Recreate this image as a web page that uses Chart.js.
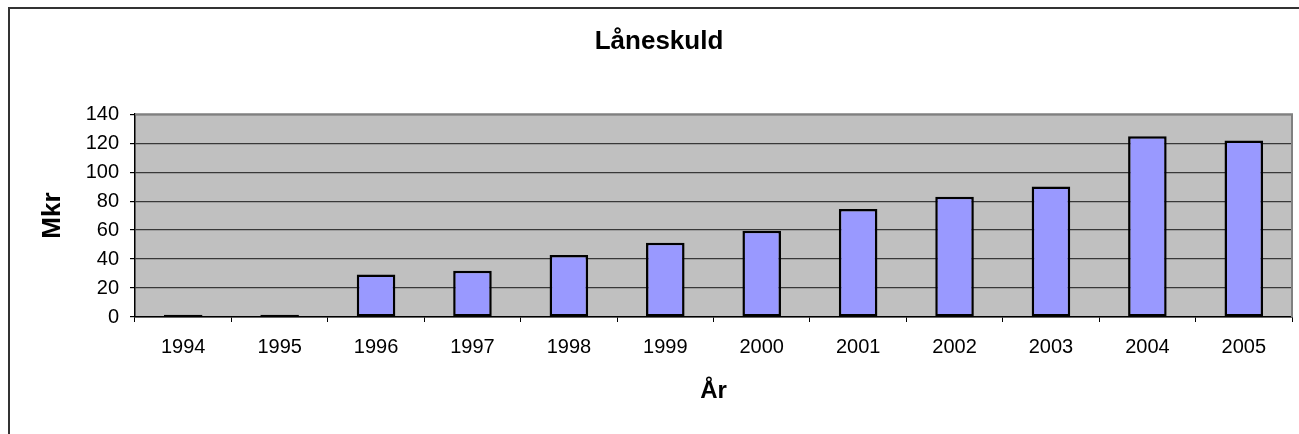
<!DOCTYPE html>
<html>
<head>
<meta charset="utf-8">
<script src="https://cdn.jsdelivr.net/npm/chart.js@4/dist/chart.umd.min.js"></script>
<style>
  html, body { margin: 0; padding: 0; background: #fff; overflow: hidden; }
  #wrap { position: relative; width: 1299px; height: 434px; }
  #frame { position: absolute; left: 8px; top: 7px; width: 1400px; height: 500px; border: 2px solid #333; }
  #myChart { position: absolute; left: 0; top: 0; }
</style>
</head>
<body>
<div id="wrap">
  <div id="frame"></div>
  <canvas id="myChart" width="1299" height="434"></canvas>
</div>
<script>
// data
const years = ['1994', '1995', '1996', '1997', '1998', '1999', '2000', '2001', '2002', '2003', '2004', '2005'];
const loanDebt = [1.6, 1.6, 29.4, 31.9, 42.8, 51.3, 59.6, 74.6, 83, 90.1, 124.7, 121.8];
const yMin = 0;
const yMax = 140;
const yStep = 20;

const fontName = '"Liberation Sans", Arial, sans-serif';

// gray plot background + lighter border on top/right like excel
const plotArea = {
  id: 'plotArea',
  beforeDraw(chart) {
    const a = chart.chartArea;
    const ctx = chart.ctx;
    ctx.save();
    ctx.fillStyle = '#C0C0C0';
    ctx.fillRect(a.left, a.top, a.right - a.left, a.bottom - a.top);
    ctx.restore();
  },
  beforeDatasetsDraw(chart) {
    const a = chart.chartArea;
    const ctx = chart.ctx;
    ctx.save();
    ctx.strokeStyle = '#808080';
    ctx.lineWidth = 2;
    ctx.beginPath();
    ctx.moveTo(a.left, a.top);
    ctx.lineTo(a.right, a.top);
    ctx.lineTo(a.right, a.bottom);
    ctx.stroke();
    ctx.restore();
  }
};

const ctx = document.getElementById('myChart');

new Chart(ctx, {
  type: 'bar',
  data: {
    labels: years,
    datasets: [{
      label: 'Låneskuld',
      data: loanDebt,
      backgroundColor: '#9999FF',
      borderColor: '#000',
      borderWidth: 2.5,
      borderSkipped: false,
      barPercentage: 0.4,
      categoryPercentage: 1
    }]
  },
  options: {
    responsive: false,
    animation: false,
    layout: { padding: { left: 26, right: 7, top: 0, bottom: 0 } },
    scales: {
      x: {
        grid: { display: true, drawOnChartArea: false, drawTicks: true, tickLength: 5, tickColor: '#000', offset: true },
        border: { display: true, color: '#000', width: 1.5 },
        ticks: { color: '#000', padding: 13, font: { family: fontName, size: 20 }, maxRotation: 0 },
        title: { display: true, text: 'År', color: '#000', font: { family: fontName, size: 24, weight: 'bold' }, padding: { top: 28, bottom: 28 } },
        afterFit(s) { s.height = 117; }
      },
      y: {
        min: yMin,
        max: yMax,
        grid: { color: '#383838', lineWidth: 1.2, tickLength: 5, tickColor: '#000' },
        border: { display: true, color: '#000', width: 1.5 },
        ticks: { stepSize: yStep, color: '#000', padding: 11, font: { family: fontName, size: 20 } },
        title: { display: true, text: 'Mkr', color: '#000', font: { family: fontName, size: 26, weight: 'bold' }, padding: { top: 11, bottom: 11 } },
        afterFit(s) { s.width = 109; }
      }
    },
    plugins: {
      legend: { display: false },
      tooltip: { enabled: false },
      title: {
        display: true,
        text: 'Låneskuld',
        color: '#000',
        font: { family: fontName, size: 26, weight: 'bold' },
        padding: { top: 26, bottom: 57 }
      }
    }
  },
  plugins: [plotArea]
});
</script>
</body>
</html>
